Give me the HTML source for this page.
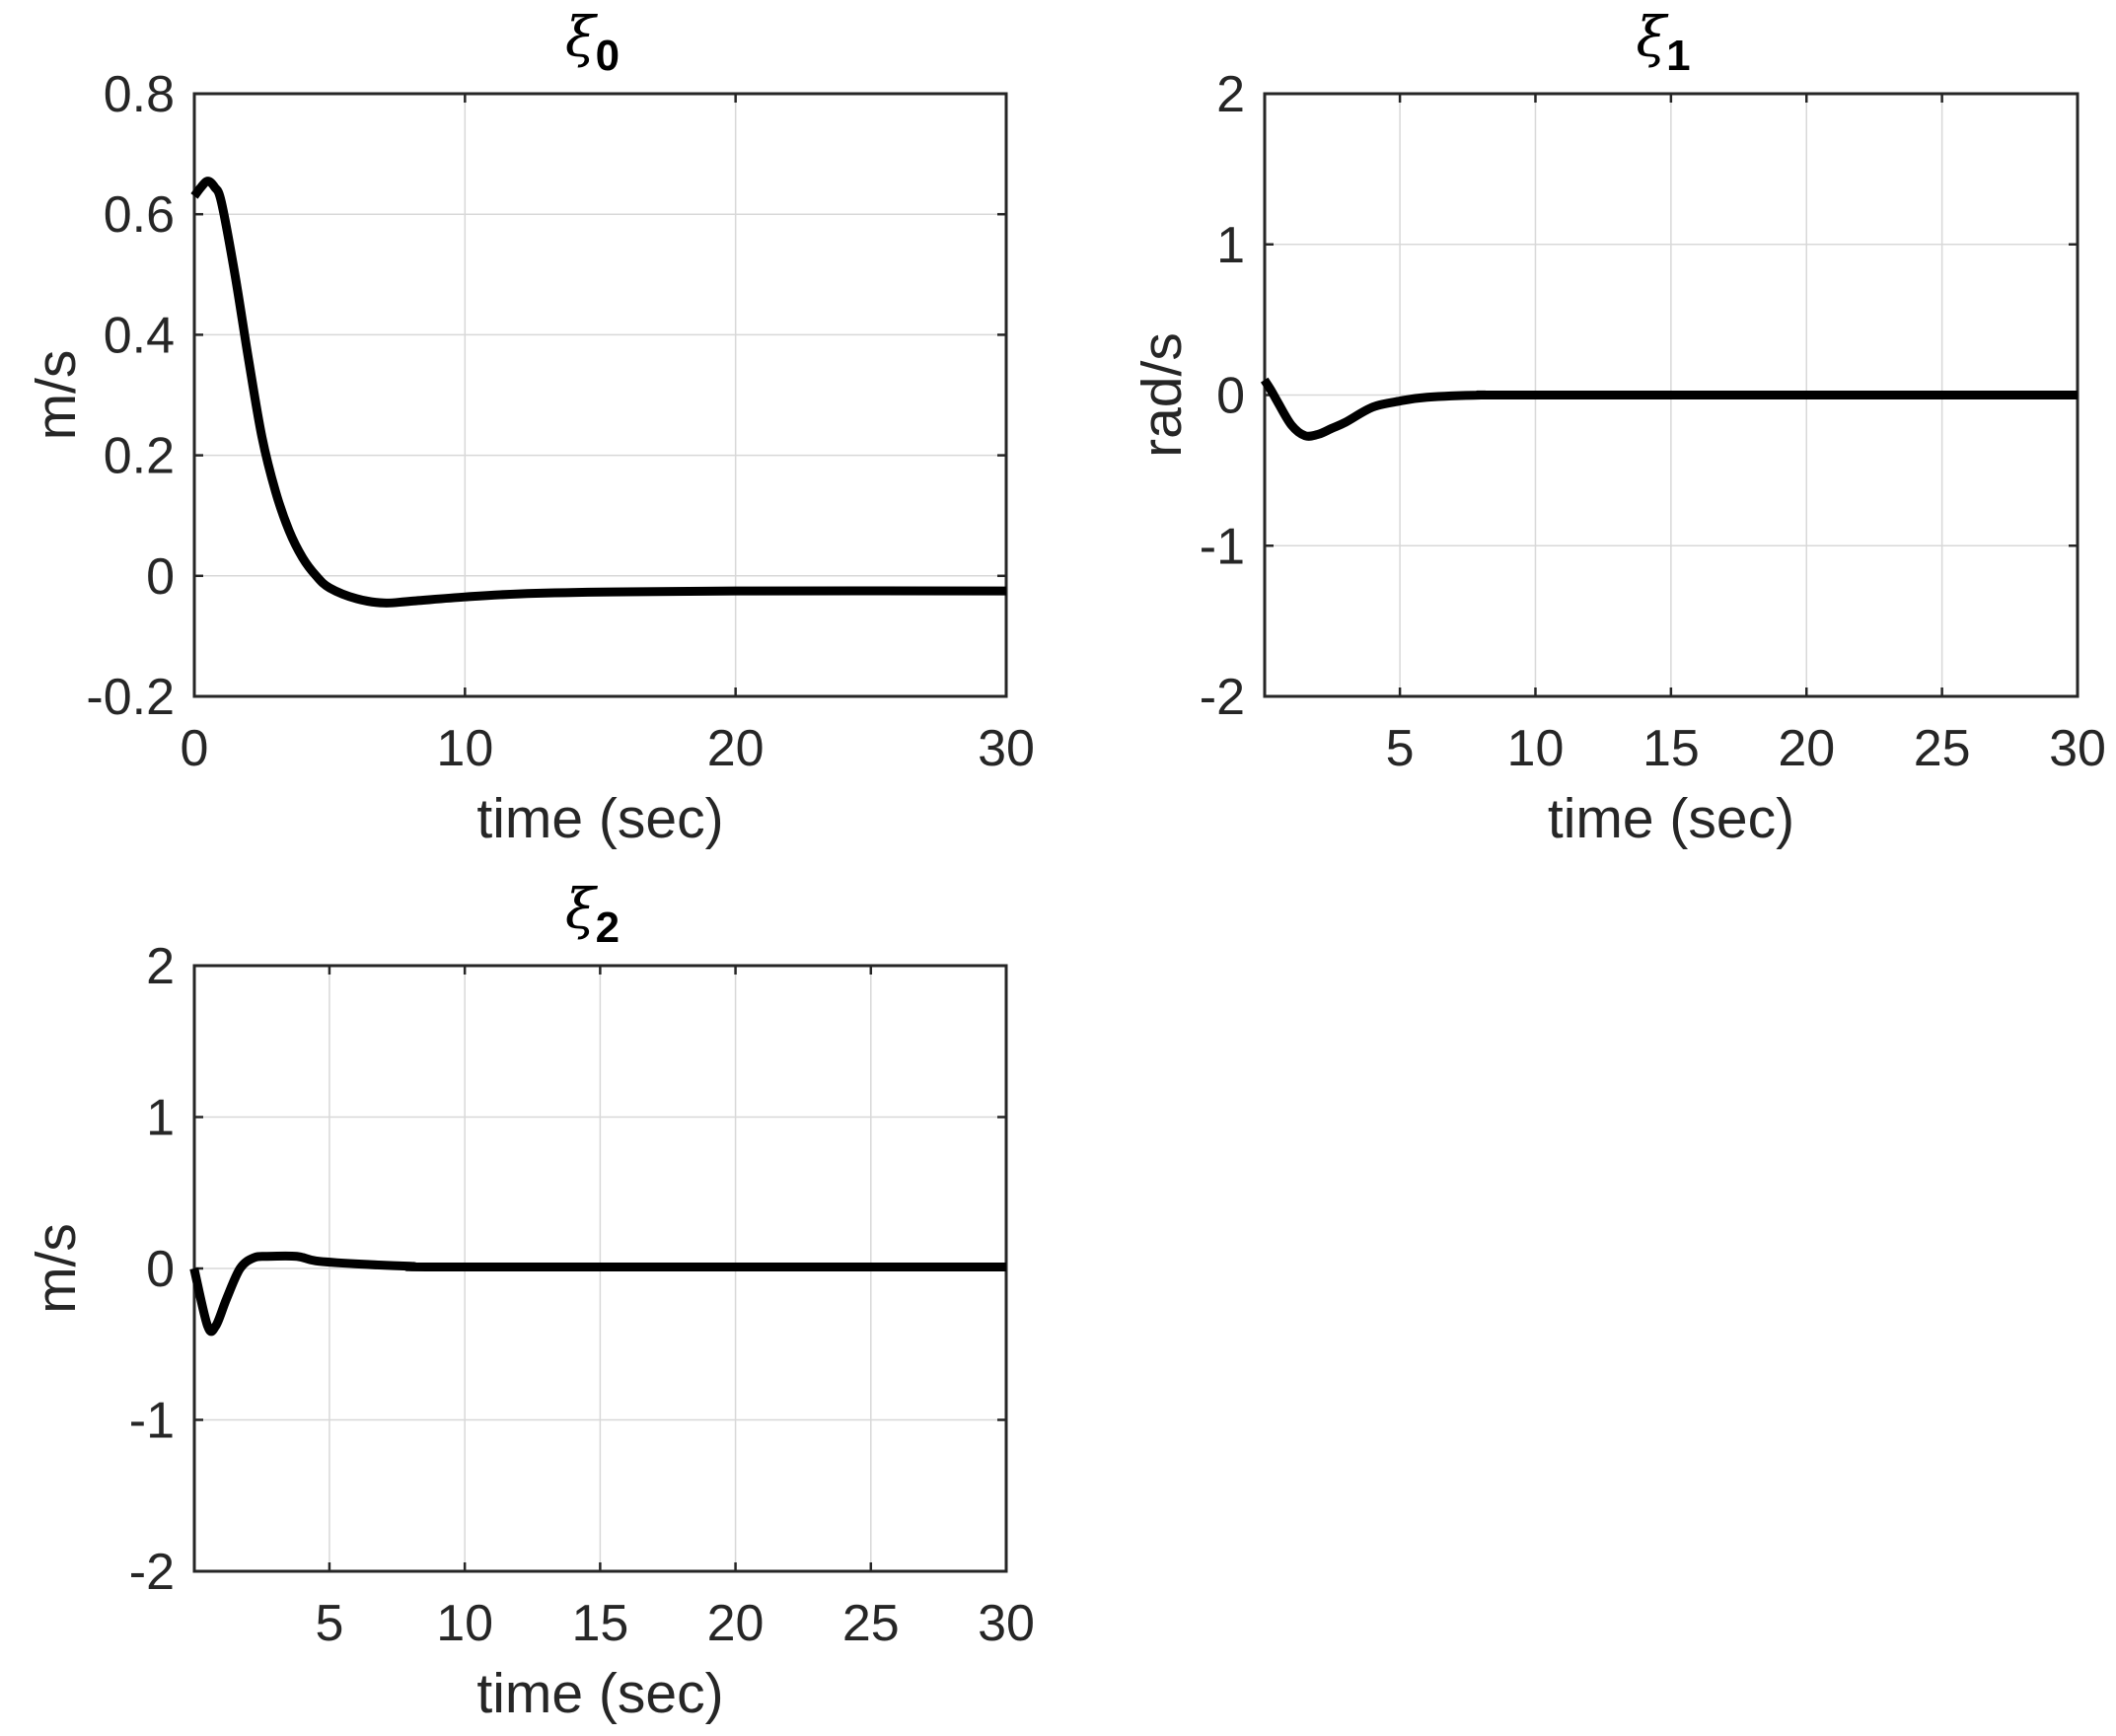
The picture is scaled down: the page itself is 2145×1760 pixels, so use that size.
<!DOCTYPE html>
<html><head><meta charset="utf-8"><style>
html,body{margin:0;padding:0;background:#fff;}
svg{display:block;font-family:"Liberation Sans",sans-serif;}
</style></head><body>
<svg id="fig" width="2145" height="1760" viewBox="0 0 2145 1760" xmlns="http://www.w3.org/2000/svg"></svg>
<script>
const xi0Time=[0,0.25,0.5,0.75,1,1.5,2,2.5,3,3.5,4,4.5,5,6,7,8,10,12,15,20,30];
const xi0Vals=[0.63,0.645,0.655,0.645,0.62,0.5,0.36,0.23,0.14,0.075,0.03,0.0,-0.02,-0.038,-0.045,-0.042,-0.035,-0.03,-0.027,-0.025,-0.025];
const xi1Time=[0,0.25,0.5,1,1.5,2,2.5,3,4,5,6,8,10,30];
const xi1Vals=[0.1,0.03,-0.05,-0.2,-0.27,-0.26,-0.22,-0.18,-0.08,-0.04,-0.015,0.0,0.0,0.0];
const xi2Time=[0,0.5,0.8,1.2,1.7,2.2,2.7,3.8,4.5,6,8,10,30];
const xi2Vals=[0,-0.38,-0.38,-0.2,0.0,0.07,0.08,0.08,0.05,0.03,0.015,0.01,0.01];
const ticks0X=[0,10,20,30];
const ticks0Y=[-0.2,0,0.2,0.4,0.6,0.8];
const ticks0YLabels=["-0.2","0","0.2","0.4","0.6","0.8"];
const ticks12X=[5,10,15,20,25,30];
const ticks12Y=[-2,-1,0,1,2];

const NS="http://www.w3.org/2000/svg";
const svg=document.getElementById('fig');
function mk(tag,attrs,parent){const e=document.createElementNS(NS,tag);for(const k in attrs)e.setAttribute(k,attrs[k]);(parent||svg).appendChild(e);return e;}

function panel(cfg){
  const g=mk('g',{});
  
  
  const {L,R,T,B,x0,x1,y0,y1}=cfg;
  const sx=v=>L+(v-x0)/(x1-x0)*(R-L);
  const sy=v=>B-(v-y0)/(y1-y0)*(B-T);
  cfg.xt.forEach(v=>{if(v>x0&&v<x1){const l=mk('line',{x1:sx(v),x2:sx(v),y1:T,y2:B,stroke:'#d8d8d8','stroke-width':1.5},g);}});
  cfg.yt.forEach(v=>{if(v>y0&&v<y1){const l=mk('line',{x1:L,x2:R,y1:sy(v),y2:sy(v),stroke:'#d8d8d8','stroke-width':1.5},g);}});
  cfg.xt.forEach(v=>{const x=sx(v);mk('line',{x1:x,x2:x,y1:B,y2:B-9,stroke:'#262626','stroke-width':2.5},g);mk('line',{x1:x,x2:x,y1:T,y2:T+9,stroke:'#262626','stroke-width':2.5},g);
    const t=mk('text',{x:x,y:B+70,'text-anchor':'middle','font-size':52,fill:'#262626'},g);t.textContent=String(v);});
  cfg.yt.forEach((v,i)=>{const y=sy(v);mk('line',{x1:L,x2:L+9,y1:y,y2:y,stroke:'#262626','stroke-width':2.5},g);mk('line',{x1:R,x2:R-9,y1:y,y2:y,stroke:'#262626','stroke-width':2.5},g);
    const t=mk('text',{x:L-20,y:y+18,'text-anchor':'end','font-size':52,fill:'#262626'},g);t.textContent=cfg.yl?cfg.yl[i]:String(v);});
  const f=mk('rect',{x:L,y:T,width:R-L,height:B-T,fill:'none',stroke:'#262626','stroke-width':3},g);
  
  const pts=cfg.t.map((tv,i)=>[sx(tv),sy(cfg.v[i])]);
  let d='M'+pts[0][0]+','+pts[0][1];
  for(let i=0;i<pts.length-1;i++){const p0=pts[Math.max(0,i-1)],p1=pts[i],p2=pts[i+1],p3=pts[Math.min(pts.length-1,i+2)];
    const c1=[p1[0]+(p2[0]-p0[0])/6,p1[1]+(p2[1]-p0[1])/6],c2=[p2[0]-(p3[0]-p1[0])/6,p2[1]-(p3[1]-p1[1])/6];
    d+=' C'+c1[0]+','+c1[1]+' '+c2[0]+','+c2[1]+' '+p2[0]+','+p2[1];}
  const p=mk('path',{d:d,fill:'none',stroke:'#000','stroke-width':9,'stroke-linejoin':'round'},g);
  
  const xl=mk('text',{x:(L+R)/2,y:B+143,'text-anchor':'middle','font-size':57,fill:'#262626'},g);xl.textContent='time (sec)';
  
  const yx=cfg.ylx, yy=(T+B)/2;
  const yl=mk('text',{x:yx,y:yy,'text-anchor':'middle','font-size':57,fill:'#262626',transform:'rotate(-90 '+yx+' '+yy+')'},g);yl.textContent=cfg.unit;
  
  const tt=mk('text',{x:(L+R)/2-8,y:T-38,'text-anchor':'middle','font-size':56,fill:'#000'},g);
  
  const s1=mk('tspan',{'font-style':'italic','font-family':'"DejaVu Serif",serif'},tt);s1.textContent='ξ';
  const s2=mk('tspan',{'font-weight':'bold','font-size':44,dy:14},tt);s2.textContent=cfg.sub;
}
panel({name:'xi0-panel',L:197,R:1020,T:95,B:706,x0:0,x1:30,y0:-0.2,y1:0.8,xt:ticks0X,yt:ticks0Y,yl:ticks0YLabels,t:xi0Time,v:xi0Vals,unit:'m/s',ylx:76,sub:'0'});
panel({name:'xi1-panel',L:1282,R:2106,T:95,B:706,x0:0.01,x1:30,y0:-2,y1:2,xt:ticks12X,yt:ticks12Y,t:xi1Time,v:xi1Vals,unit:'rad/s',ylx:1197,sub:'1'});
panel({name:'xi2-panel',L:197,R:1020,T:979,B:1593,x0:0.01,x1:30,y0:-2,y1:2,xt:ticks12X,yt:ticks12Y,t:xi2Time,v:xi2Vals,unit:'m/s',ylx:76,sub:'2'});
</script>
</body></html>
